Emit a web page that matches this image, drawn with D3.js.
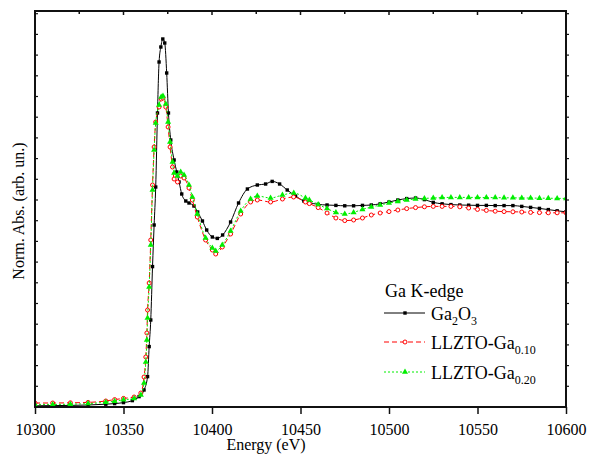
<!DOCTYPE html>
<html><head><meta charset="utf-8">
<script src="https://cdn.jsdelivr.net/npm/d3@7"></script>
<style>body{margin:0;background:#fff}svg{display:block}</style>
</head><body><svg id="c" width="590" height="465" style="font-family:'Liberation Serif', monospace"></svg>
<script>
// Data (energy in eV, normalized absorbance)
const ga2o3E = [10300,10310,10320,10330,10340,10345,10350,10355,10358.8,10361.6,10363.6,10364.5,10365.4,10366.4,10367.3,10368.2,10369.2,10370.1,10371.1,10372.2,10373.3,10374.4,10375.4,10376.7,10378.6,10380.1,10381.4,10382.9,10385.2,10387.0,10389.8,10391.9,10394.6,10397.0,10400.2,10403.0,10406.0,10410.5,10415.0,10420.0,10425.6,10430.3,10434.0,10438.2,10442.5,10447.2,10451.9,10455,10460,10465,10470,10475,10480,10485,10490,10495,10500,10505,10510,10515,10520,10525,10530,10535,10540,10545,10550,10555,10560,10565,10570,10575,10580,10585,10590,10595,10600];
const ga2o3V = [-0.004,-0.003,-0.002,0.0,0.004,0.007,0.012,0.022,0.042,0.075,0.142,0.292,0.425,0.692,0.9,1.09,1.46,1.715,1.79,1.83,1.81,1.66,1.46,1.325,1.225,1.165,1.115,1.055,1.02,1.01,0.995,0.965,0.92,0.875,0.84,0.833,0.85,0.915,1.01,1.08,1.10,1.105,1.118,1.105,1.075,1.045,1.02,1.012,1.003,1.0,0.998,0.996,0.996,0.998,1.0,1.006,1.015,1.025,1.032,1.035,1.027,1.013,1.006,1.002,1.0,0.999,0.998,0.998,0.997,0.997,0.997,0.993,0.988,0.983,0.977,0.971,0.966];

const ga10E = [10300,10310,10320,10330,10340,10345,10350,10356.0,10359.8,10361.6,10362.6,10363.2,10363.6,10364.5,10365.4,10366.4,10367.3,10368.2,10370.1,10371.3,10372.3,10373.9,10375.2,10376.3,10377.7,10378.6,10380.5,10382.3,10384.2,10387.0,10388.9,10391.7,10396.4,10400.2,10402.1,10405.8,10410.5,10416.2,10421.8,10425.6,10433.1,10439.8,10446.1,10452.8,10455,10460,10465,10470,10475,10480,10485,10490,10495,10500,10505,10510,10515,10520,10525,10530,10535,10540,10545,10550,10555,10560,10565,10570,10575,10580,10585,10590,10595,10600];
const ga10V = [0.010,0.010,0.011,0.013,0.020,0.027,0.033,0.040,0.06,0.14,0.24,0.36,0.475,0.61,0.825,1.1,1.29,1.415,1.49,1.53,1.535,1.49,1.39,1.29,1.19,1.13,1.115,1.145,1.135,1.085,1.025,0.94,0.825,0.775,0.755,0.79,0.855,0.955,1.015,1.025,1.015,1.03,1.04,1.015,1.007,0.987,0.96,0.935,0.922,0.925,0.935,0.95,0.96,0.967,0.975,0.982,0.987,0.991,0.993,0.993,0.993,0.991,0.985,0.978,0.973,0.969,0.967,0.966,0.965,0.963,0.962,0.961,0.961,0.961];

const ga20E = [10300,10310,10320,10330,10340,10345,10350,10356.0,10359.8,10361.6,10362.6,10363.2,10363.6,10364.5,10365.4,10366.4,10367.3,10368.2,10370.1,10371.3,10372.3,10373.9,10375.2,10376.3,10377.7,10378.6,10380.5,10382.3,10384.2,10387.0,10388.9,10391.7,10396.4,10400.2,10402.1,10405.8,10410.5,10416.2,10421.8,10425.6,10433.1,10439.8,10446.2,10452.8,10455,10460,10465,10470,10475,10480,10485,10490,10495,10500,10505,10510,10515,10520,10525,10530,10535,10540,10545,10550,10555,10560,10565,10570,10575,10580,10585,10590,10595,10600];
const ga20V = [0.003,0.003,0.004,0.007,0.014,0.019,0.026,0.033,0.05,0.11,0.215,0.325,0.435,0.59,0.8,1.075,1.275,1.41,1.5,1.54,1.545,1.505,1.415,1.315,1.215,1.16,1.145,1.165,1.15,1.1,1.04,0.955,0.835,0.785,0.77,0.8,0.87,0.97,1.03,1.045,1.035,1.05,1.06,1.035,1.025,1.003,0.982,0.963,0.955,0.963,0.978,0.99,1.0,1.01,1.018,1.025,1.03,1.033,1.035,1.037,1.038,1.038,1.038,1.038,1.037,1.037,1.036,1.036,1.035,1.035,1.034,1.034,1.033,1.033];

const xTicks = [10300,10350,10400,10450,10500,10550,10600];
const xMinorTicks = [10325,10375,10425,10475,10525,10575];
const seriesNames = ["Ga2O3","LLZTO-Ga0.10","LLZTO-Ga0.20"];

const FONT = "'Liberation Serif', monospace";
const svg = d3.select("#c");
const L=35, R=566, T=11, B=407;
const x = d3.scaleLinear().domain([10300,10600]).range([L,R]);
const y = d3.scaleLinear().domain([-0.01,1.97]).range([B,T]);

const series = [
  {name:"Ga2O3", E:ga2o3E, V:ga2o3V, color:"#000000", dash:null, marker:"square"},
  {name:"LLZTO-Ga0.10", E:ga10E, V:ga10V, color:"#ff0000", dash:"5,3", marker:"circle"},
  {name:"LLZTO-Ga0.20", E:ga20E, V:ga20V, color:"#00ee00", dash:"2,2", marker:"triangle"}
];

const line = d3.line().x(d=>x(d[0])).y(d=>y(d[1])).curve(d3.curveMonotoneX);
svg.append("clipPath").attr("id","cp").append("rect").attr("x",L).attr("y",T).attr("width",R-L).attr("height",B-T);

function drawMarker(g, type, color, px, py){
  if(type==="square"){
    g.append("rect").attr("x",px-1.7).attr("y",py-1.7).attr("width",3.4).attr("height",3.4).attr("fill",color);
  } else if(type==="circle"){
    g.append("circle").attr("cx",px).attr("cy",py).attr("r",2).attr("fill","#fff").attr("stroke",color).attr("stroke-width",1);
  } else {
    g.append("path").attr("d",d3.symbol().type(d3.symbolTriangle).size(16)()).attr("transform",`translate(${px},${py})`).attr("fill",color);
  }
}

const plot = svg.append("g").attr("clip-path","url(#cp)");
series.forEach(s=>{
  const pts = s.E.map((e,i)=>[e,s.V[i]]);
  plot.append("path").attr("d",line(pts)).attr("fill","none").attr("stroke",s.color).attr("stroke-width",1).attr("stroke-dasharray",s.dash);
  const mg = plot.append("g");
  pts.forEach(p=>drawMarker(mg, s.marker, s.color, x(p[0]), y(p[1])));
});

// frame
svg.append("rect").attr("x",L).attr("y",T).attr("width",R-L).attr("height",B-T).attr("fill","none").attr("stroke","#111").attr("stroke-width",2);

// bottom axis
const ax = svg.append("g").attr("transform",`translate(0,${B})`)
  .call(d3.axisBottom(x).tickValues(xTicks).tickFormat(d3.format("d")).tickSize(7).tickSizeOuter(0).tickPadding(10));
ax.attr("font-family",null).style("font-family",FONT);
ax.select(".domain").remove();
ax.selectAll("line").attr("stroke","#111").attr("stroke-width",1.5);
ax.selectAll("text").attr("font-size",null).style("font-size","16px").attr("fill","#000").style("font-family",FONT);

// top ticks (inward)
svg.append("g").selectAll("line").data(xTicks.concat(xMinorTicks)).join("line")
  .attr("x1",d=>x(d)).attr("x2",d=>x(d)).attr("y1",T).attr("y2",d=>T+(xTicks.includes(d)?4:3)).attr("stroke","#111").attr("stroke-width",1.5);

// y ticks (no labels)
const yTicks = d3.range(-0.01+0.1035, 1.96, 0.1035);
svg.append("g").selectAll("line").data(yTicks).join("line")
  .attr("x1",L).attr("x2",L+3).attr("y1",d=>y(d)).attr("y2",d=>y(d)).attr("stroke","#111").attr("stroke-width",1.2);
svg.append("g").selectAll("line").data(yTicks).join("line")
  .attr("x1",R).attr("x2",R+3).attr("y1",d=>y(d)).attr("y2",d=>y(d)).attr("stroke","#111").attr("stroke-width",1.2);

// axis titles
svg.append("text").attr("x",266).attr("y",450).attr("text-anchor","middle").style("font-size","16px").style("font-family",FONT).text("Energy (eV)");
svg.append("text").attr("transform","translate(24,211) rotate(-90)").attr("text-anchor","middle").style("font-size","16px").style("font-family",FONT).text("Norm. Abs. (arb. un.)");

// legend
const lg = svg.append("g").style("font-family",FONT);
lg.append("text").attr("x",385).attr("y",297).style("font-size","18px").style("font-family",FONT).text("Ga K-edge");
const legRows = [
  {s:series[0], ly:313, main:["Ga","2","O","3"]},
  {s:series[1], ly:342, main:["LLZTO-Ga","0.10"]},
  {s:series[2], ly:372, main:["LLZTO-Ga","0.20"]}
];
legRows.forEach(r=>{
  lg.append("line").attr("x1",384).attr("x2",425).attr("y1",r.ly).attr("y2",r.ly).attr("stroke",r.s.color).attr("stroke-width",1).attr("stroke-dasharray",r.s.dash);
  drawMarker(lg, r.s.marker, r.s.color, 405, r.ly);
  const t = lg.append("text").attr("x",431).attr("y",r.ly+7).style("font-size","18px").style("font-family",FONT);
  r.main.forEach((part,i)=>{
    if(i%2===0) t.append("tspan").attr("dy", i===0?0:-5).text(part);
    else t.append("tspan").style("font-size","12px").attr("dy",5).text(part);
  });
});
</script></body></html>
